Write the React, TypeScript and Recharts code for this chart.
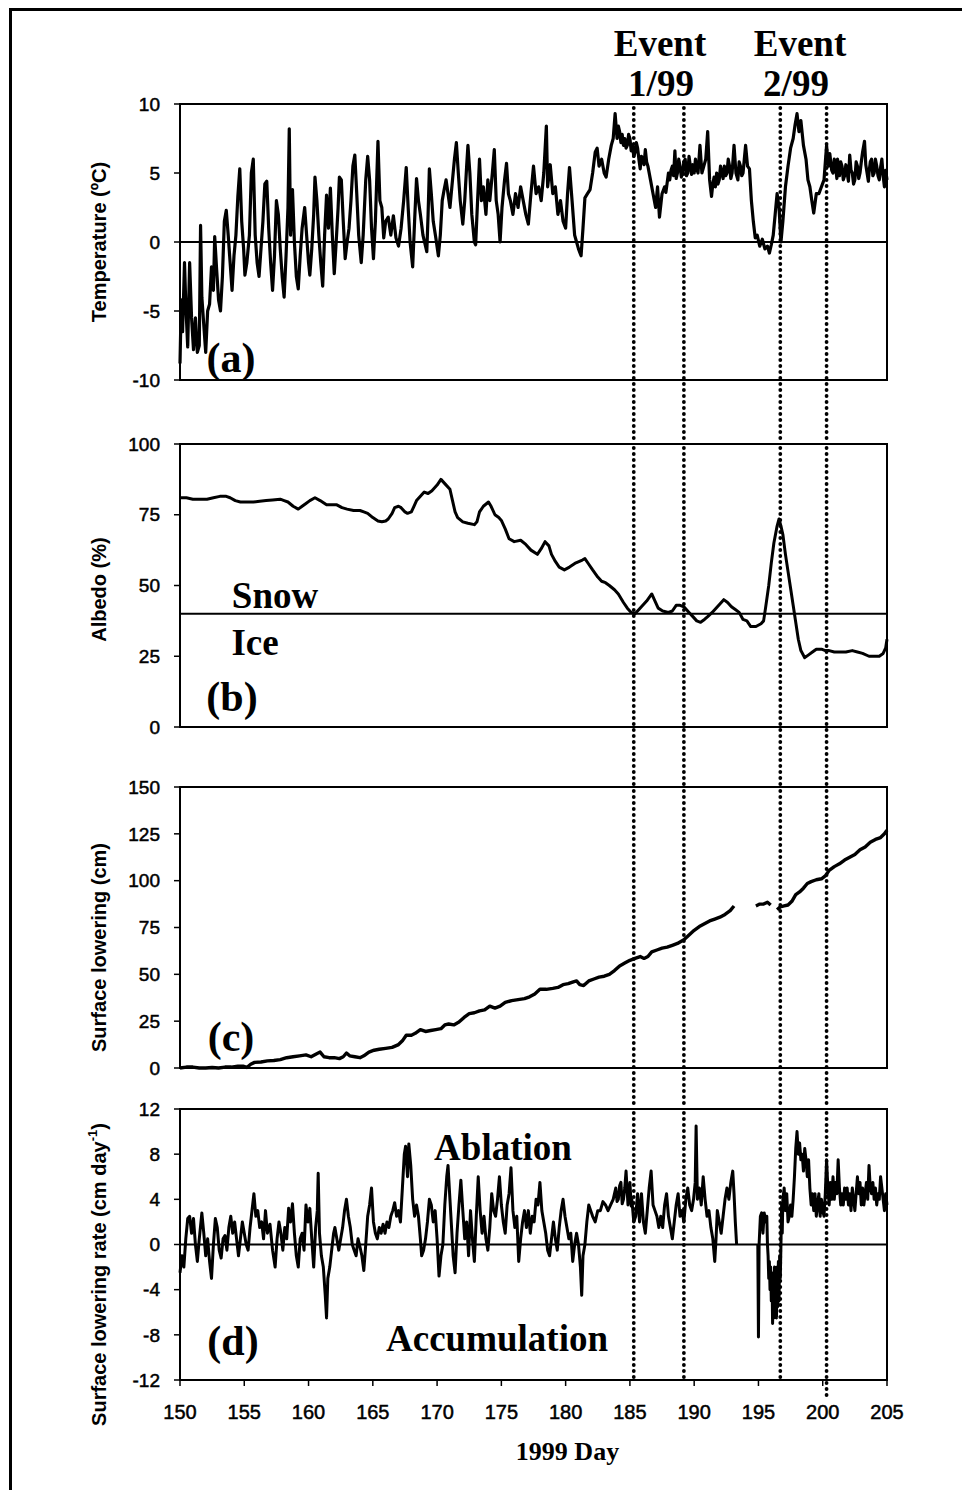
import React from "react";
import { LineChart, Line, XAxis, YAxis, ReferenceLine, ReferenceArea } from "recharts";

// Day-of-year axis and the two melt events (start / end of each)
const dayTicks = [150, 155, 160, 165, 170, 175, 180, 185, 190, 195, 200, 205];
const eventDays = [185.3, 189.2, 196.7, 200.3];

const temperatureTicks = [-10, -5, 0, 5, 10];
const albedoTicks = [0, 25, 50, 75, 100];
const loweringTicks = [0, 25, 50, 75, 100, 125, 150];
const rateTicks = [-12, -8, -4, 0, 4, 8, 12];
const snowIceAlbedo = 40;

// [day, air temperature ºC]
const temperature: [number, number][] = [
  [150.0, -8.8], [150.1, -4.2], [150.2, -6.5], [150.35, -1.5], [150.45, -4.5], [150.6, -7.6], [150.75, -1.5],
  [150.9, -5.5], [151.05, -7.8], [151.2, -5.5], [151.35, -8.0], [151.5, -7.5], [151.6, 1.2], [151.7, -4],
  [151.85, -6], [152.0, -8.0], [152.15, -5], [152.3, -4.5], [152.45, -1.8], [152.6, -3.5], [152.7, 0.4],
  [152.85, -2], [153.0, -4.2], [153.15, -5.0], [153.3, -2.5], [153.45, 1.5], [153.6, 2.3], [153.75, 0.5],
  [153.9, -1.5], [154.05, -3.5], [154.2, -1.0], [154.35, 0.5], [154.5, 3.3], [154.65, 5.3], [154.8, 1.5],
  [154.95, -0.5], [155.05, -2.4], [155.2, -1.5], [155.4, 0.5], [155.55, 5.0], [155.7, 6.0], [155.85, 0.5],
  [156.0, -1.5], [156.15, -2.5], [156.3, -0.5], [156.45, 1.5], [156.6, 4.2], [156.75, 4.4], [156.9, 1.0],
  [157.05, -1.5], [157.2, -3.5], [157.35, -1.0], [157.5, 3.0], [157.65, 2.0], [157.8, -0.5], [157.95, -2.5],
  [158.1, -4.0], [158.25, -1.0], [158.4, 2.5], [158.5, 8.2], [158.6, 0.5], [158.75, 3.8], [158.9, 0.0],
  [159.05, -2.5], [159.2, -3.4], [159.35, -1.0], [159.5, 1.0], [159.7, 2.5], [159.85, 0.5], [160.0, -1.5],
  [160.1, -2.4], [160.25, -0.5], [160.4, 2.0], [160.5, 4.7], [160.65, 3.0], [160.8, 0.5], [160.95, -1.5],
  [161.1, -3.2], [161.25, 0.5], [161.4, 3.4], [161.55, 1.0], [161.7, 3.9], [161.85, 0.5], [162.0, -2.3],
  [162.15, 0.0], [162.3, 2.5], [162.4, 4.7], [162.55, 4.5], [162.7, 1.5], [162.85, -1.2], [163.0, 0.0],
  [163.15, 1.0], [163.3, 3.0], [163.45, 5.5], [163.6, 6.3], [163.75, 3.5], [163.9, 0.5], [164.1, -1.5],
  [164.25, 0.5], [164.45, 4.5], [164.6, 6.2], [164.75, 4.5], [164.9, 1.0], [165.05, -1.2], [165.2, 1.5],
  [165.4, 7.3], [165.55, 3.0], [165.7, 2.5], [165.85, 0.3], [166.0, 1.5], [166.2, 1.8], [166.4, 0.5],
  [166.6, 1.9], [166.8, 0.3], [167.0, -0.3], [167.2, 1.0], [167.4, 3.0], [167.6, 5.4], [167.75, 2.5],
  [167.9, 0.0], [168.1, -1.8], [168.25, 1.5], [168.4, 4.6], [168.55, 3.0], [168.7, 2.0], [168.9, 0.5],
  [169.2, -0.7], [169.3, 2.0], [169.4, 5.3], [169.55, 3.5], [169.7, 1.5], [169.9, 0.3], [170.1, -1.0],
  [170.25, 0.5], [170.4, 3.0], [170.55, 3.8], [170.7, 4.5], [170.85, 3.5], [171.0, 2.5], [171.2, 4.5],
  [171.35, 6.0], [171.5, 7.2], [171.65, 5.0], [171.8, 3.0], [172.0, 1.3], [172.15, 3.0], [172.3, 5.5],
  [172.4, 7.0], [172.55, 5.0], [172.7, 2.0], [172.9, 0.0], [173.0, -0.2], [173.15, 3.0], [173.3, 6.0],
  [173.45, 3.0], [173.6, 4.0], [173.8, 2.0], [173.95, 4.5], [174.1, 3.0], [174.3, 5.0], [174.45, 6.7],
  [174.6, 3.0], [174.75, 2.0], [174.9, 0.0], [175.05, 2.5], [175.25, 4.5], [175.4, 5.7], [175.55, 3.5],
  [175.7, 3.0], [175.9, 2.0], [176.1, 3.5], [176.3, 2.5], [176.5, 4.0], [176.7, 3.0], [176.9, 2.0],
  [177.1, 1.3], [177.3, 3.5], [177.5, 5.5], [177.7, 3.5], [177.9, 4.0], [178.1, 3.0], [178.3, 5.0],
  [178.5, 8.4], [178.6, 4.0], [178.8, 5.6], [179.0, 3.5], [179.2, 4.0], [179.4, 2.0], [179.6, 3.0],
  [179.8, 1.5], [180.0, 1.0], [180.15, 3.5], [180.3, 5.4], [180.5, 3.0], [180.7, 0.5], [180.85, 0.0],
  [181.0, -0.5], [181.2, -1.0], [181.35, 1.0], [181.5, 3.2], [181.7, 3.5], [181.9, 3.8], [182.1, 5.0],
  [182.3, 6.5], [182.45, 6.8], [182.6, 5.5], [182.8, 6.0], [183.0, 5.0], [183.15, 4.7], [183.35, 6.0],
  [183.55, 7.0], [183.7, 7.5], [183.85, 9.3], [184.0, 7.5], [184.1, 8.4], [184.2, 8.0], [184.3, 7.2],
  [184.4, 7.8], [184.5, 7.0], [184.6, 7.5], [184.7, 6.8], [184.8, 7.0], [184.9, 7.8], [185.0, 7.5],
  [185.1, 6.6], [185.2, 7.0], [185.3, 6.2], [185.4, 6.5], [185.5, 7.2], [185.6, 6.8], [185.7, 6.0],
  [185.8, 5.3], [185.9, 6.2], [186.0, 6.0], [186.1, 5.6], [186.2, 6.7], [186.3, 5.8], [186.4, 5.5],
  [186.6, 4.5], [186.8, 3.5], [187.0, 2.5], [187.15, 4.0], [187.3, 1.8], [187.5, 3.5], [187.7, 4.0],
  [187.8, 3.6], [187.9, 4.3], [188.0, 5.0], [188.1, 4.5], [188.2, 5.2], [188.3, 5.5], [188.4, 4.8],
  [188.5, 6.6], [188.6, 4.6], [188.7, 5.0], [188.8, 6.0], [188.9, 5.5], [189.0, 4.7], [189.1, 5.0],
  [189.2, 5.8], [189.3, 6.0], [189.4, 4.8], [189.5, 5.0], [189.6, 6.2], [189.7, 5.5], [189.8, 4.9],
  [189.9, 5.6], [190.0, 5.0], [190.1, 6.0], [190.2, 5.3], [190.3, 5.0], [190.45, 7.0], [190.6, 5.0],
  [190.75, 5.5], [190.9, 6.0], [191.05, 8.0], [191.2, 4.5], [191.35, 3.3], [191.45, 4.2], [191.55, 4.7],
  [191.65, 4.0], [191.75, 5.0], [191.85, 4.2], [191.95, 4.5], [192.05, 5.5], [192.15, 5.0], [192.25, 4.6],
  [192.35, 5.5], [192.45, 4.8], [192.55, 5.0], [192.65, 6.0], [192.75, 5.5], [192.85, 4.6], [192.95, 5.0],
  [193.1, 7.0], [193.25, 5.0], [193.4, 4.5], [193.5, 5.8], [193.6, 5.5], [193.7, 4.8], [193.8, 5.0],
  [193.9, 6.0], [194.0, 7.0], [194.15, 5.5], [194.3, 5.3], [194.45, 3.0], [194.6, 1.5], [194.75, 0.3],
  [194.9, 0.5], [195.1, -0.3], [195.3, 0.2], [195.5, -0.5], [195.7, -0.3], [195.85, -0.8], [196.0, -0.2],
  [196.15, 0.5], [196.3, 2.0], [196.45, 3.5], [196.6, 2.5], [196.75, 0.0], [196.9, 1.5], [197.1, 4.0],
  [197.3, 5.5], [197.5, 6.8], [197.7, 7.5], [197.85, 8.5], [198.0, 9.3], [198.15, 8.0], [198.3, 8.8],
  [198.5, 7.0], [198.7, 6.0], [198.85, 4.5], [199.0, 4.0], [199.15, 3.0], [199.3, 2.1], [199.5, 3.5],
  [199.7, 3.5], [199.9, 4.0], [200.1, 4.5], [200.3, 7.0], [200.4, 5.8], [200.45, 5.5], [200.55, 6.4],
  [200.6, 6.0], [200.7, 5.2], [200.8, 5.0], [200.9, 6.0], [201.0, 5.5], [201.1, 4.6], [201.15, 6.0],
  [201.3, 4.8], [201.4, 5.8], [201.5, 5.5], [201.6, 4.5], [201.7, 4.8], [201.8, 5.6], [201.9, 5.0],
  [202.0, 4.4], [202.1, 6.3], [202.2, 5.2], [202.3, 5.0], [202.4, 4.2], [202.5, 4.5], [202.6, 5.8],
  [202.7, 5.5], [202.8, 4.6], [202.9, 5.0], [203.0, 5.8], [203.1, 6.5], [203.25, 7.3], [203.35, 5.6],
  [203.45, 5.0], [203.55, 4.4], [203.6, 5.0], [203.7, 5.8], [203.8, 6.0], [203.9, 4.8], [204.0, 5.0],
  [204.1, 6.0], [204.2, 5.5], [204.3, 4.8], [204.4, 4.5], [204.5, 5.4], [204.6, 6.0], [204.7, 4.8],
  [204.8, 4.0], [204.9, 5.2], [205.0, 4.5],
];

// [day, surface albedo %]
const albedo: [number, number][] = [
  [150.0, 81], [150.5, 81], [151.0, 80.5], [151.5, 80.5], [152.1, 80.5], [152.6, 81], [153.1, 81.5],
  [153.6, 81.5], [153.9, 81], [154.3, 80], [154.7, 79.5], [155.2, 79.5], [155.7, 79.5], [156.2, 79.8],
  [156.7, 80], [157.2, 80.2], [157.8, 80.5], [158.1, 80], [158.4, 79.5], [158.8, 78], [159.2, 77],
  [159.5, 78], [159.8, 79], [160.1, 80], [160.5, 81], [160.9, 80], [161.4, 78.5], [161.8, 78.5],
  [162.2, 78.5], [162.6, 77.5], [163.0, 77], [163.5, 76.5], [164.0, 76.5], [164.3, 76], [164.6, 75.5],
  [165.0, 74], [165.4, 72.8], [165.7, 72.5], [166.0, 72.8], [166.2, 73.5], [166.5, 75.5], [166.7, 77.5],
  [167.0, 78], [167.2, 77.5], [167.5, 76], [167.7, 75.5], [168.0, 76], [168.2, 78], [168.4, 80],
  [168.7, 81.5], [169.0, 83], [169.3, 82.5], [169.6, 83.5], [170.0, 85.5], [170.3, 87.5], [170.6, 86],
  [171.0, 84], [171.2, 80], [171.4, 76], [171.6, 74], [172.0, 72.5], [172.4, 72], [172.9, 71.5],
  [173.1, 72.5], [173.3, 76], [173.6, 78], [174.0, 79.5], [174.2, 78], [174.5, 75], [174.8, 74],
  [175.0, 73], [175.3, 70], [175.6, 66.5], [176.0, 65.5], [176.5, 66], [176.9, 64.5], [177.3, 62.5],
  [177.8, 61], [178.1, 63], [178.4, 65.5], [178.7, 64], [178.9, 61], [179.2, 58.5], [179.5, 56.5],
  [179.9, 55.5], [180.3, 56.5], [180.8, 58], [181.3, 59], [181.5, 59.5], [181.8, 57.5], [182.1, 55.5],
  [182.5, 53], [182.8, 51.5], [183.1, 51], [183.4, 50], [183.8, 48.5], [184.1, 47], [184.5, 44],
  [184.8, 42], [185.1, 40.5], [185.4, 40], [185.7, 41.5], [186.0, 43], [186.3, 44.5], [186.7, 47],
  [186.9, 45], [187.2, 42], [187.55, 41], [188.0, 40.5], [188.3, 41], [188.6, 43], [188.9, 43],
  [189.2, 42.5], [189.6, 40.5], [189.9, 39], [190.2, 37.5], [190.5, 37], [190.8, 38], [191.05, 39],
  [191.4, 40.5], [191.7, 42], [192.0, 43.5], [192.3, 45], [192.6, 44], [192.9, 42.5], [193.2, 41.5],
  [193.5, 40.5], [193.8, 38], [194.1, 37.5], [194.4, 35.5], [194.8, 35.5], [195.2, 36.5], [195.4, 37.5],
  [195.55, 42], [195.8, 50], [196.0, 58], [196.2, 65], [196.45, 71], [196.6, 73.5], [196.75, 71],
  [196.9, 68], [197.1, 61], [197.3, 55], [197.5, 49], [197.7, 43], [197.9, 37], [198.1, 31],
  [198.3, 27], [198.6, 24.5], [198.9, 25.5], [199.2, 26.5], [199.5, 27.5], [199.9, 27.5], [200.2, 27],
  [200.5, 27], [200.9, 26.5], [201.3, 26.5], [201.8, 26.5], [202.3, 27], [202.7, 26.5], [203.1, 26],
  [203.6, 25], [204.0, 25], [204.4, 25], [204.7, 26], [204.9, 28], [205.0, 31],
];

// [day, cumulative surface lowering cm]; null = no record
const lowering: [number, number | null][] = [
  [150.0, 0], [150.5, 0.5], [151.0, 0.5], [151.5, 0], [152.0, 0], [152.5, 0.3], [153.0, 0], [153.5, 0.5],
  [154.0, 0.5], [154.5, 1.0], [154.9, 1.0], [155.2, 0.3], [155.5, 2.0], [155.8, 3.0], [156.3, 3.2],
  [156.8, 3.8], [157.3, 4.0], [157.8, 4.5], [158.3, 5.5], [158.8, 6.0], [159.3, 6.5], [159.8, 7.0],
  [160.2, 6.0], [160.6, 7.5], [160.9, 8.5], [161.2, 6.0], [161.6, 5.5], [162.0, 5.5], [162.4, 5.0],
  [162.7, 6.0], [162.95, 8.0], [163.2, 6.5], [163.6, 6.0], [164.0, 5.5], [164.3, 6.5], [164.7, 8.5],
  [165.1, 9.5], [165.5, 10.0], [166.0, 10.5], [166.5, 11.0], [167.0, 12.5], [167.3, 14.5], [167.6, 17.5],
  [168.0, 17.5], [168.3, 18.5], [168.7, 20.5], [169.1, 19.5], [169.5, 20.0], [169.9, 20.5], [170.3, 21.0],
  [170.6, 23.0], [170.9, 23.5], [171.3, 23.0], [171.7, 24.5], [172.1, 27.0], [172.5, 29.0], [172.9, 29.5],
  [173.3, 30.5], [173.7, 31.0], [174.1, 33.0], [174.5, 32.0], [174.9, 33.0], [175.3, 35.0], [175.8, 36.0],
  [176.3, 36.5], [176.8, 37.0], [177.2, 38.0], [177.6, 39.5], [178.0, 42.0], [178.5, 42.0], [179.0, 42.5],
  [179.4, 43.0], [179.8, 44.5], [180.2, 45.0], [180.6, 46.0], [180.85, 46.5], [181.1, 44.5], [181.4, 44.0],
  [181.8, 46.5], [182.2, 47.5], [182.6, 48.5], [183.0, 49.0], [183.4, 50.0], [183.8, 52.0], [184.2, 54.5],
  [184.6, 56.0], [185.0, 57.5], [185.4, 58.5], [185.8, 59.5], [186.1, 58.5], [186.4, 59.5], [186.7, 62.0],
  [187.1, 63.0], [187.5, 64.0], [187.9, 64.5], [188.3, 65.5], [188.7, 66.5], [189.2, 68.5], [189.6, 71.0],
  [190.0, 73.5], [190.4, 75.5], [190.8, 77.0], [191.2, 78.5], [191.6, 79.5], [192.0, 80.5], [192.4, 82.0],
  [192.8, 84.0], [193.1, 86.5], [193.5, null], [194.8, 86.5], [195.1, 87.5], [195.4, 87.5], [195.7, 88.5],
  [195.95, 87.0], [196.2, null], [196.45, 84.5], [196.7, 86.0], [197.0, 86.5], [197.3, 87.0], [197.6, 89.0],
  [197.9, 92.5], [198.2, 94.0], [198.5, 96.0], [198.8, 98.5], [199.1, 99.5], [199.5, 100.5], [199.9, 101.0],
  [200.2, 102.5], [200.5, 105.5], [200.9, 107.5], [201.3, 109.0], [201.7, 111.0], [202.1, 112.5],
  [202.5, 114.0], [202.9, 116.5], [203.3, 118.0], [203.7, 120.5], [204.1, 122.0], [204.5, 123.0],
  [204.8, 125.0], [205.0, 127.0],
];

// [day, surface lowering rate cm/day]; null = no record
const loweringRate: [number, number | null][] = [
  [150.0, -2.5], [150.15, -1.0], [150.3, -2.0], [150.45, 0.5], [150.6, 2.3], [150.75, 2.5], [150.9, 1.0],
  [151.05, 2.3], [151.2, 0.0], [151.35, -1.5], [151.5, 0.5], [151.7, 2.8], [151.85, 1.0], [152.0, -1.0],
  [152.15, 0.5], [152.3, -1.5], [152.45, -3.0], [152.6, 0.0], [152.75, 2.3], [152.9, 1.5], [153.05, -0.5],
  [153.2, -1.2], [153.35, 0.5], [153.5, 0.8], [153.65, -0.5], [153.8, 1.5], [153.95, 2.5], [154.1, 1.0],
  [154.25, 2.0], [154.4, 0.5], [154.55, -1.0], [154.7, 0.5], [154.85, 2.0], [155.0, 1.0], [155.15, 0.0],
  [155.3, -0.5], [155.45, 1.5], [155.6, 3.0], [155.75, 4.5], [155.9, 2.5], [156.05, 3.0], [156.2, 1.5],
  [156.35, 2.0], [156.5, 0.5], [156.65, 3.0], [156.8, 1.0], [157.0, 1.8], [157.2, -0.5], [157.4, -2.0],
  [157.55, 0.5], [157.7, 2.0], [157.85, 1.0], [158.0, -0.5], [158.15, 1.5], [158.3, 0.5], [158.45, 3.2],
  [158.6, 2.0], [158.75, 3.6], [158.9, 1.0], [159.05, -1.0], [159.2, -2.0], [159.35, 0.5], [159.5, 1.0],
  [159.65, -0.5], [159.8, 3.5], [159.95, 2.0], [160.1, 3.2], [160.25, 0.5], [160.4, -2.0], [160.55, 1.5],
  [160.68, 3.0], [160.75, 6.3], [160.85, 1.0], [161.0, -1.0], [161.15, -2.0], [161.3, -4.5], [161.4, -6.5],
  [161.5, -3.0], [161.65, -2.0], [161.8, -0.5], [161.95, 1.0], [162.05, 1.5], [162.2, 0.5], [162.35, -0.5],
  [162.5, 0.5], [162.65, 1.5], [162.8, 3.0], [162.95, 4.0], [163.1, 2.5], [163.25, 1.5], [163.4, 0.0],
  [163.55, -0.5], [163.7, -1.0], [163.85, 0.5], [164.0, -0.2], [164.15, -1.0], [164.3, -2.3], [164.45, 0.0],
  [164.6, 2.5], [164.75, 3.5], [164.9, 5.0], [165.05, 2.0], [165.2, 1.0], [165.35, 0.5], [165.5, 1.5],
  [165.65, 1.0], [165.8, 1.8], [165.95, 1.0], [166.1, 2.0], [166.25, 1.5], [166.4, 2.5], [166.55, 3.0],
  [166.7, 3.7], [166.85, 2.5], [167.0, 3.0], [167.15, 2.0], [167.3, 5.0], [167.45, 8.0], [167.55, 8.7],
  [167.7, 6.0], [167.8, 8.9], [167.95, 7.0], [168.1, 4.0], [168.25, 2.5], [168.4, 3.5], [168.55, 2.5],
  [168.7, 0.5], [168.8, -1.0], [168.95, -0.5], [169.1, 0.5], [169.25, 2.0], [169.4, 4.0], [169.55, 3.5],
  [169.7, 2.0], [169.85, 3.0], [170.0, 0.5], [170.15, -2.8], [170.3, -1.0], [170.45, 0.0], [170.6, 3.5],
  [170.75, 6.0], [170.85, 7.0], [171.0, 4.0], [171.1, 2.0], [171.25, -1.0], [171.4, -2.5], [171.55, 1.0],
  [171.7, 3.5], [171.85, 5.7], [172.0, 3.0], [172.15, 0.5], [172.3, 2.0], [172.45, -1.0], [172.6, 3.0],
  [172.75, 0.5], [172.9, -1.5], [173.05, 2.5], [173.2, 6.0], [173.35, 3.0], [173.5, 1.0], [173.65, 2.5],
  [173.8, 0.5], [173.95, -0.5], [174.1, 1.5], [174.25, 4.5], [174.4, 3.0], [174.55, 2.5], [174.7, 4.0],
  [174.85, 6.0], [175.0, 3.5], [175.15, 2.0], [175.3, 1.0], [175.45, 3.5], [175.6, 4.5], [175.75, 6.8],
  [175.9, 3.0], [176.05, 1.5], [176.2, 2.5], [176.35, -1.5], [176.5, 0.5], [176.65, 2.0], [176.8, 3.0],
  [176.95, 1.5], [177.1, 3.0], [177.25, 1.0], [177.4, 2.5], [177.55, 2.0], [177.7, 4.0], [177.85, 3.5],
  [178.0, 5.5], [178.15, 3.0], [178.3, 2.0], [178.45, 1.0], [178.6, -0.5], [178.75, -1.0], [178.9, 0.5],
  [179.05, 2.0], [179.2, 0.5], [179.35, -0.5], [179.5, 1.5], [179.65, 3.0], [179.8, 4.0], [179.95, 2.5],
  [180.1, 1.5], [180.25, 0.5], [180.4, 1.0], [180.55, -1.5], [180.7, 0.0], [180.85, 1.0], [181.0, 0.0],
  [181.15, -2.0], [181.25, -4.5], [181.35, -1.0], [181.5, 0.0], [181.65, 2.0], [181.8, 3.5], [181.95, 3.0],
  [182.1, 2.5], [182.3, 2.0], [182.5, 3.0], [182.7, 3.0], [182.9, 3.8], [183.1, 3.5], [183.3, 3.0],
  [183.5, 3.5], [183.7, 4.0], [183.9, 5.0], [184.0, 3.8], [184.1, 4.0], [184.2, 5.2], [184.3, 5.5],
  [184.4, 3.6], [184.5, 4.0], [184.6, 5.0], [184.7, 6.5], [184.85, 3.5], [184.95, 4.8], [185.0, 5.5],
  [185.1, 3.4], [185.15, 4.0], [185.3, 2.0], [185.45, 2.5], [185.6, 4.5], [185.75, 2.0], [185.9, 4.5],
  [186.05, 2.0], [186.2, 1.0], [186.35, 3.0], [186.5, 5.0], [186.65, 6.5], [186.8, 3.5], [186.95, 3.0],
  [187.1, 2.5], [187.25, 1.5], [187.4, 2.5], [187.55, 1.5], [187.7, 3.5], [187.85, 4.5], [188.0, 2.5],
  [188.15, 1.5], [188.3, 0.5], [188.45, 2.0], [188.6, 3.5], [188.75, 4.5], [188.9, 2.5], [189.05, 3.0],
  [189.2, 2.0], [189.35, 4.0], [189.5, 5.0], [189.65, 3.5], [189.8, 3.0], [189.95, 4.0], [190.08, 5.5],
  [190.15, 10.5], [190.25, 4.0], [190.4, 5.0], [190.55, 3.5], [190.7, 6.0], [190.85, 4.0], [191.0, 2.5],
  [191.15, 3.0], [191.3, 1.5], [191.45, 0.5], [191.6, -1.5], [191.7, 0.5], [191.8, 3.0], [191.95, 2.0],
  [192.1, 1.0], [192.25, 2.5], [192.4, 4.0], [192.55, 5.0], [192.7, 4.0], [192.85, 5.5], [193.0, 6.5],
  [193.1, 4.5], [193.2, 2.0], [193.3, 0.0], [193.4, null], [194.9, null], [194.95, 0.0], [195.0, -8.2],
  [195.05, 0.0], [195.15, 2.5], [195.25, 2.8], [195.35, 1.0], [195.45, 2.8], [195.55, 2.0], [195.65, 2.5],
  [195.7, 0.0], [195.75, -1.0], [195.8, -3.0], [195.85, -1.5], [195.9, -4.0], [195.95, -2.0], [196.0, -5.0],
  [196.05, -2.5], [196.1, -7.0], [196.15, -3.0], [196.2, -6.5], [196.25, -2.0], [196.3, -6.0], [196.35, -2.5],
  [196.4, -6.5], [196.45, -2.0], [196.5, -5.5], [196.55, -1.5], [196.6, -5.0], [196.65, -1.0], [196.7, -3.0],
  [196.75, 0.0], [196.8, 3.5], [196.85, 1.0], [196.9, 4.0], [197.0, 5.0], [197.1, 3.0], [197.2, 4.5],
  [197.3, 2.0], [197.4, 2.5], [197.5, 3.5], [197.6, 2.5], [197.7, 4.0], [197.8, 6.0], [197.9, 8.5],
  [198.0, 10.0], [198.1, 8.0], [198.2, 9.0], [198.3, 7.5], [198.4, 8.0], [198.5, 6.5], [198.6, 8.5],
  [198.7, 7.5], [198.8, 6.0], [198.9, 7.5], [199.0, 5.0], [199.1, 3.5], [199.2, 4.5], [199.3, 3.0],
  [199.4, 4.5], [199.5, 2.5], [199.6, 3.5], [199.7, 4.5], [199.8, 2.5], [199.9, 4.0], [200.0, 3.0],
  [200.1, 2.5], [200.2, 4.5], [200.3, 7.5], [200.4, 5.0], [200.5, 3.5], [200.6, 5.5], [200.7, 4.0],
  [200.8, 6.0], [200.9, 4.0], [201.0, 5.5], [201.1, 4.5], [201.2, 7.5], [201.3, 5.0], [201.4, 3.5],
  [201.5, 4.5], [201.6, 3.5], [201.7, 5.0], [201.8, 4.0], [201.9, 5.0], [202.0, 3.5], [202.1, 4.5],
  [202.2, 3.0], [202.3, 5.0], [202.4, 4.0], [202.5, 3.0], [202.6, 4.5], [202.7, 6.0], [202.8, 4.5],
  [202.9, 5.5], [203.0, 3.5], [203.1, 5.0], [203.2, 3.5], [203.3, 4.5], [203.4, 5.5], [203.5, 4.0],
  [203.6, 7.0], [203.7, 5.0], [203.8, 4.5], [203.9, 5.5], [204.0, 4.0], [204.1, 5.0], [204.2, 3.5],
  [204.3, 4.5], [204.4, 4.0], [204.5, 6.0], [204.6, 5.0], [204.7, 4.0], [204.8, 3.0], [204.9, 4.5],
  [205.0, 3.5],
];

const WIDTH = 962;
const PLOT_LEFT = 180;
const PLOT_RIGHT = 887;
const Y_AXIS_W = 90;
const TOP_PAD = 10;
const SANS = "'Liberation Sans', Arial, sans-serif";
const SERIF = "'Liberation Serif', 'Times New Roman', serif";

const toRows = (pairs: [number, number | null][]) => pairs.map(([day, value]) => ({ day, value }));

// dotted event marker that runs on through the gap under its panel
const eventShape = (extend: number) => (p: any) => {
  const top = Math.min(p.y1, p.y2);
  const bottom = Math.max(p.y1, p.y2) + extend;
  return (
    <line x1={p.x1} x2={p.x1} y1={top + 4} y2={bottom} stroke="#000" strokeWidth={3.8}
      strokeDasharray="0 6" strokeLinecap="round" />
  );
};

const tickText = { fill: "#000", stroke: "#000", strokeWidth: 0.5, fontFamily: SANS };

type PanelProps = {
  top: number;
  height: number;
  below: number;
  rows: { day: number; value: number | null }[];
  domain: [number, number];
  ticks: number[];
  title: string;
  sup?: string;
  titleShift: number;
  hLine: number;
  lineWidth: number;
  tickMarks: boolean;
  dayLabels?: boolean;
  extend: number[];
};

const Panel = ({ top, height, below, rows, domain, ticks, title, sup, titleShift, hLine, lineWidth, tickMarks, dayLabels, extend }: PanelProps) => {
  const xAxisH = dayLabels ? 80 : 20;
  const cy = TOP_PAD + height / 2 + titleShift;
  const cx = 99;
  const renderTitle = () => (
    <text x={cx} y={cy} transform={`rotate(-90 ${cx} ${cy})`} textAnchor="middle" dominantBaseline="central"
      fontFamily={SANS} fontWeight="bold" fontSize={20} fill="#000">
      {title}
      {sup && (
        <>
          <tspan dy={-7} fontSize={13}>{sup}</tspan>
          <tspan dy={7}>)</tspan>
        </>
      )}
    </text>
  );
  return (
    <div style={{ position: "absolute", left: 0, top: top - TOP_PAD }}>
      <LineChart width={WIDTH} height={TOP_PAD + height + below} data={rows}
        margin={{ top: TOP_PAD, right: WIDTH - PLOT_RIGHT, left: PLOT_LEFT - Y_AXIS_W, bottom: below - xAxisH }}>
        <XAxis dataKey="day" type="number" domain={[150, 205]} ticks={dayTicks} interval={0} height={xAxisH}
          axisLine={{ stroke: "#000", strokeWidth: 2 }}
          tickLine={tickMarks ? { stroke: "#000", strokeWidth: 1.5 } : false}
          tickSize={6} tickMargin={19}
          tick={dayLabels ? { ...tickText, fontSize: 20 } : false}
          label={dayLabels ? { value: "1999 Day", position: "insideBottom", offset: 0, dx: 34, fill: "#000", fontSize: 26, fontWeight: "bold", fontFamily: SERIF } : undefined}
        />
        <YAxis type="number" domain={domain} ticks={ticks} interval={0} width={Y_AXIS_W}
          axisLine={{ stroke: "#000", strokeWidth: 2 }}
          tickLine={{ stroke: "#000", strokeWidth: 1.5 }} tickSize={6} tickMargin={14}
          tick={{ ...tickText, fontSize: 19 }}
          label={renderTitle}
        />
        <ReferenceArea x1={150} x2={205} y1={domain[0]} y2={domain[1]} fill="none" stroke="#000" strokeWidth={2} />
        <ReferenceLine y={hLine} stroke="#000" strokeWidth={2} />
        <Line type="linear" dataKey="value" stroke="#000" strokeWidth={lineWidth} dot={false} strokeLinejoin="round"
          isAnimationActive={false} connectNulls={false} />
        {eventDays.map((d, i) => (
          <ReferenceLine key={d} x={d} shape={eventShape(extend[i])} />
        ))}
      </LineChart>
    </div>
  );
};

const Note = ({ x, y, size, children }: { x: number; y: number; size: number; children: React.ReactNode }) => (
  <div style={{ position: "absolute", left: x, top: y, transform: "translate(-50%, -50%)", fontFamily: SERIF,
    fontWeight: "bold", fontSize: size, lineHeight: 1, whiteSpace: "nowrap", color: "#000" }}>
    {children}
  </div>
);

export default function App() {
  return (
    <div style={{ position: "absolute", left: 0, top: 0, width: WIDTH, height: 1490, background: "#fff", overflow: "hidden" }}>
      <div style={{ position: "absolute", left: 9, top: 8, right: 0, bottom: 0, borderTop: "3px solid #000", borderLeft: "3px solid #000" }} />

      <Panel top={104} height={276} below={64} rows={toRows(temperature)} domain={[-10, 10]} ticks={temperatureTicks}
        title="Temperature (ºC)" titleShift={0} hLine={0} lineWidth={3.2} tickMarks={false} extend={[64, 64, 64, 64]} />
      <Panel top={444} height={283} below={60} rows={toRows(albedo)} domain={[0, 100]} ticks={albedoTicks}
        title="Albedo (%)" titleShift={4} hLine={snowIceAlbedo} lineWidth={3} tickMarks extend={[60, 60, 60, 60]} />
      <Panel top={787} height={281} below={41} rows={toRows(lowering)} domain={[0, 150]} ticks={loweringTicks}
        title="Surface lowering (cm)" titleShift={20} hLine={0} lineWidth={3.4} tickMarks extend={[41, 41, 41, 41]} />
      <Panel top={1109} height={271} below={110} rows={toRows(loweringRate)} domain={[-12, 12]} ticks={rateTicks}
        title="Surface lowering rate (cm day" sup="-1" titleShift={30} hLine={0} lineWidth={3} tickMarks dayLabels extend={[0, 0, 0, 18]} />

      <Note x={660} y={43} size={37}>Event</Note>
      <Note x={661} y={83} size={37}>1/99</Note>
      <Note x={800} y={43} size={37}>Event</Note>
      <Note x={796} y={83} size={37}>2/99</Note>

      <Note x={231} y={358} size={42}>(a)</Note>
      <Note x={275} y={595} size={37}>Snow</Note>
      <Note x={255} y={642} size={37}>Ice</Note>
      <Note x={232} y={697} size={42}>(b)</Note>
      <Note x={231} y={1037} size={42}>(c)</Note>
      <Note x={503} y={1147} size={37}>Ablation</Note>
      <Note x={497} y={1338} size={37}>Accumulation</Note>
      <Note x={233} y={1341} size={42}>(d)</Note>
    </div>
  );
}
